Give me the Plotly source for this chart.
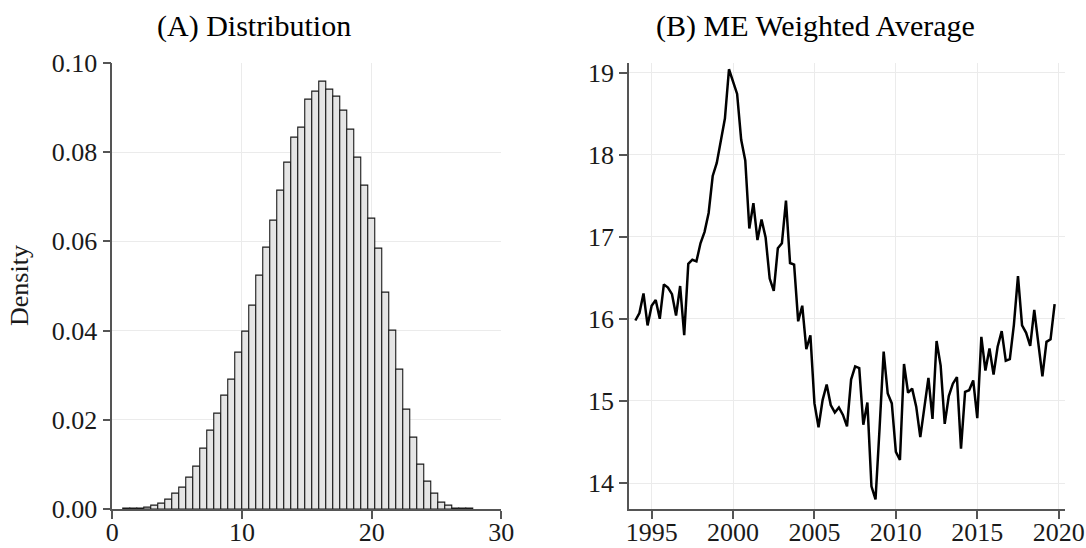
import numpy as np
import plotly.graph_objects as go

# ---- Panel A: histogram (density per bin) ----
bin_start = 0.82
bin_width = 0.54
density = [
    0.0001, 0.0001, 0.0002, 0.0004, 0.0007, 0.0013, 0.0022, 0.0034, 0.0049, 0.0070,
    0.0096, 0.0135, 0.0177, 0.0215, 0.0255, 0.0290, 0.0351, 0.0398, 0.0455, 0.0523,
    0.0585, 0.0646, 0.0713, 0.0775, 0.0833, 0.0855, 0.0917, 0.0936, 0.0957, 0.0940,
    0.0925, 0.0893, 0.0851, 0.0787, 0.0725, 0.0651, 0.0583, 0.0484, 0.0399, 0.0313,
    0.0222, 0.0161, 0.0099, 0.0061, 0.0034, 0.0015, 0.0007, 0.0002, 0.0001, 0.0001,
]

# ---- Panel B: quarterly ME weighted average, 1994Q1-2019Q4 ----
start_year = 1994.0
me_avg = [
    15.98, 16.07, 16.31, 15.92, 16.16, 16.23, 16.00, 16.42, 16.38, 16.30,
    16.04, 16.40, 15.80, 16.67, 16.72, 16.70, 16.92, 17.06, 17.29, 17.74,
    17.90, 18.16, 18.44, 19.04, 18.88, 18.74, 18.18, 17.93, 17.10, 17.41,
    16.96, 17.21, 16.99, 16.49, 16.34, 16.86, 16.92, 17.44, 16.68, 16.66,
    15.97, 16.16, 15.63, 15.80, 14.97, 14.68, 15.01, 15.20, 14.95, 14.86,
    14.92, 14.83, 14.69, 15.26, 15.42, 15.40, 14.71, 14.98, 13.96, 13.80,
    14.67, 15.60, 15.09, 14.97, 14.38, 14.28, 15.45, 15.10, 15.15, 14.93,
    14.56, 14.93, 15.28, 14.78, 15.73, 15.43, 14.72, 15.06, 15.21, 15.29,
    14.42, 15.11, 15.13, 15.25, 14.79, 15.78, 15.37, 15.64, 15.32, 15.66,
    15.85, 15.49, 15.51, 15.93, 16.52, 15.92, 15.83, 15.67, 16.11, 15.70,
    15.30, 15.72, 15.75, 16.18,
]

hist_ticks_x = [0, 10, 20, 30]
hist_ticks_y = [0.00, 0.02, 0.04, 0.06, 0.08, 0.10]
year_ticks = [1995, 2000, 2005, 2010, 2015, 2020]
me_ticks = [14, 15, 16, 17, 18, 19]

bin_centers = [bin_start + bin_width * (i + 0.5) for i in range(len(density))]
quarters = [start_year + 0.25 * i for i in range(len(me_avg))]

FONT = "Liberation Serif"
GRID = "#ebebeb"
AXIS = "#555555"

fig = go.Figure()
fig.add_trace(go.Bar(
    x=bin_centers, y=density, width=bin_width,
    marker=dict(color="#e5e5e5", line=dict(color="#1a1a1a", width=1.1)),
    xaxis="x", yaxis="y", showlegend=False,
))
fig.add_trace(go.Scatter(
    x=quarters, y=me_avg, mode="lines",
    line=dict(color="black", width=2.5),
    xaxis="x2", yaxis="y2", showlegend=False,
))

common = dict(
    showline=True, linecolor=AXIS, linewidth=1.5,
    ticks="outside", ticklen=8, tickwidth=1.5, tickcolor=AXIS,
    showgrid=True, gridcolor=GRID, gridwidth=1,
    zeroline=False, automargin=False,
    tickfont=dict(family=FONT, size=26, color="#1a1a1a"),
)
xcommon = dict(common, ticklabelstandoff=-9)

y_dom = [0.0706, 0.8856]
fig.update_layout(
    width=1086, height=548,
    margin=dict(l=0, r=0, t=0, b=0),
    paper_bgcolor="white", plot_bgcolor="white",
    bargap=0,
    xaxis=dict(domain=[0.1034, 0.4616], range=[0, 30], tickvals=hist_ticks_x,
               anchor="y", **xcommon),
    yaxis=dict(domain=y_dom, range=[0, 0.1], tickvals=hist_ticks_y,
               tickformat=".2f", anchor="x", **common),
    xaxis2=dict(domain=[0.5792, 0.9807], range=[1993.61, 2020.39], tickvals=year_ticks,
                anchor="y2", **xcommon),
    yaxis2=dict(domain=y_dom, range=[13.68, 19.12], tickvals=me_ticks,
                anchor="x2", **common),
    annotations=[
        dict(text="(A) Distribution", x=0.2339, y=0.953, xref="paper", yref="paper",
             showarrow=False, xanchor="center", yanchor="middle",
             font=dict(family=FONT, size=30, color="black")),
        dict(text="(B) ME Weighted Average", x=0.7505, y=0.953, xref="paper", yref="paper",
             showarrow=False, xanchor="center", yanchor="middle",
             font=dict(family=FONT, size=30, color="black")),
        dict(text="Density", x=0.0184, y=0.48, xref="paper", yref="paper",
             showarrow=False, textangle=-90, xanchor="center", yanchor="middle",
             font=dict(family=FONT, size=26, color="#1a1a1a")),
    ],
)

fig.write_html("out.html")
